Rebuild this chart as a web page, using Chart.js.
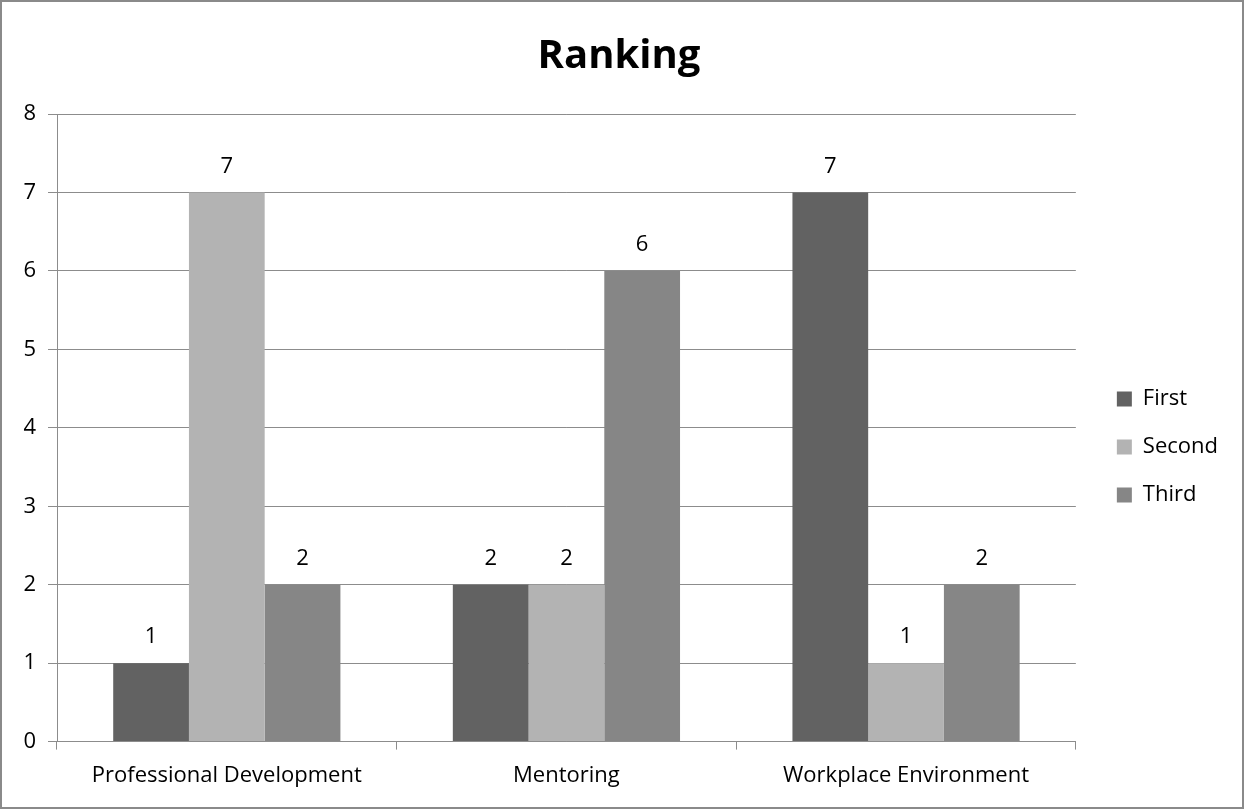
<!DOCTYPE html>
<html>
<head>
<meta charset="utf-8">
<script src="https://cdn.jsdelivr.net/npm/chart.js@4.4.0/dist/chart.umd.min.js"></script>
<style>
  html, body { margin: 0; padding: 0; background: #fff; }
  #wrap { width: 1244px; height: 809px; box-sizing: border-box; border: 2px solid #8a8a8a; }
</style>
</head>
<body>
<div id="wrap"><canvas id="myChart" width="1240" height="805"></canvas></div>
<script>
var categories = ['Professional Development', 'Mentoring', 'Workplace Environment'];
var firstValues = [1, 2, 7];
var secondValues = [7, 2, 1];
var thirdValues = [2, 6, 2];
var yTicks = [0, 1, 2, 3, 4, 5, 6, 7, 8];

var fontFamily = "'Open Sans', sans-serif";
var textSize = 22;

// draw the value above each bar
var valueLabels = {
  id: 'valueLabels',
  afterDatasetsDraw: function (chart) {
    var ctx = chart.ctx;
    ctx.save();
    ctx.font = textSize + 'px ' + fontFamily;
    ctx.fillStyle = '#000';
    ctx.textAlign = 'center';
    ctx.textBaseline = 'middle';
    chart.data.datasets.forEach(function (ds, i) {
      chart.getDatasetMeta(i).data.forEach(function (bar, j) {
        ctx.fillText(ds.data[j], bar.x, bar.y - 26);
      });
    });
    ctx.restore();
  }
};

var ctx = document.getElementById('myChart').getContext('2d');
var myChart = new Chart(ctx, {
  type: 'bar',
  data: {
    labels: categories,
    datasets: [
      { label: 'First', data: firstValues, backgroundColor: '#626262' },
      { label: 'Second', data: secondValues, backgroundColor: '#b3b3b3' },
      { label: 'Third', data: thirdValues, backgroundColor: '#868686' }
    ]
  },
  plugins: [valueLabels],
  options: {
    responsive: false,
    animation: false,
    layout: { padding: { left: 8, right: 14, top: 14, bottom: 5 } },
    datasets: { bar: { categoryPercentage: 0.669, barPercentage: 1 } },
    plugins: {
      title: {
        display: true,
        text: 'Ranking',
        color: '#000',
        font: { family: fontFamily, size: 40, weight: 'bold' },
        padding: { top: 17, bottom: 33 }
      },
      legend: {
        position: 'right',
        title: { display: true, text: '', font: { size: 10, lineHeight: 1 }, padding: { top: 66, bottom: 0 } },
        labels: {
          color: '#000',
          font: { family: fontFamily, size: textSize },
          boxWidth: 15,
          boxHeight: 15,
          padding: 26
        }
      },
      tooltip: { enabled: false }
    },
    scales: {
      x: {
        grid: { drawOnChartArea: false, drawTicks: true, tickLength: 8, color: '#8c8c8c' },
        border: { color: '#8c8c8c' },
        ticks: { color: '#000', font: { family: fontFamily, size: textSize }, padding: 13 }
      },
      y: {
        min: 0,
        max: 8,
        afterBuildTicks: function (scale) {
          scale.ticks = yTicks.map(function (v) { return { value: v }; });
        },
        afterFit: function (scale) { scale.width = 47; },
        grid: { color: '#8c8c8c', tickLength: 9 },
        border: { color: '#8c8c8c' },
        ticks: { color: '#000', font: { family: fontFamily, size: textSize }, padding: 12 }
      },
      // empty axis, only keeps a gap between the plot and the legend
      gap: {
        position: 'right',
        display: true,
        grid: { display: false },
        border: { display: false },
        ticks: { display: false },
        afterFit: function (scale) { scale.width = 15; }
      }
    }
  }
});
</script>
</body>
</html>
